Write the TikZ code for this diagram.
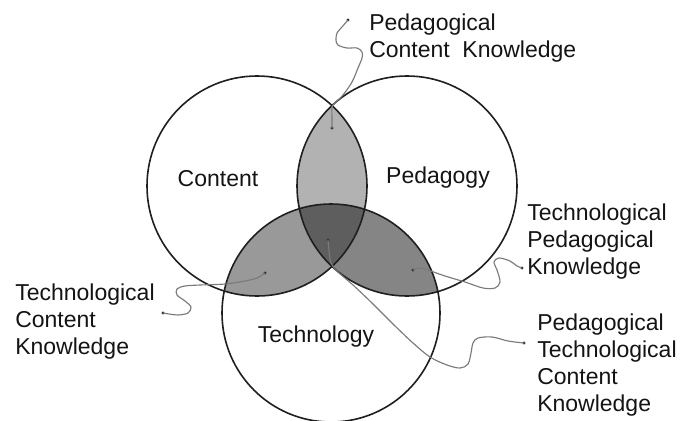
\documentclass[tikz,border=0pt]{standalone}
\usepackage{fontspec}
\setmainfont{Liberation Sans}
\begin{document}
\begin{tikzpicture}[x=0.75pt,y=-0.75pt,
  ring/.style={draw=black!88,line width=1.2pt},
  conn/.style={draw=black!52,line width=0.85pt,line cap=round,line join=round},
  dotmark/.style={circle,fill=black!85,inner sep=0pt,minimum size=2.6pt},
  lbl/.style={font=\fontsize{17.25}{20.25}\selectfont,text=black!92,align=left,inner sep=0pt,anchor=north west},
  clbl/.style={font=\fontsize{17.25}{20.25}\selectfont,text=black!92,inner sep=0pt,anchor=base}]
\useasboundingbox (0,0) rectangle (682,421);
\fill[white] (0,0) rectangle (682,421);
\coordinate (C) at (257,186);
\coordinate (P) at (407,186);
\coordinate (T) at (331,313);
% lenses
\begin{scope}
  \clip (C) circle[radius=110];
  \fill[black!30] (P) circle[radius=110];
\end{scope}
\begin{scope}
  \clip (C) circle[radius=110];
  \fill[black!40] (T) circle[radius=109];
\end{scope}
\begin{scope}
  \clip (P) circle[radius=110];
  \fill[black!48] (T) circle[radius=109];
\end{scope}
\begin{scope}
  \clip (C) circle[radius=110];
  \clip (P) circle[radius=110];
  \fill[black!63] (T) circle[radius=109];
\end{scope}
\draw[ring] (C) circle[radius=110];
\draw[ring] (P) circle[radius=110];
\draw[ring] (T) circle[radius=109];
% circle labels
\node[clbl] (lc) at (218,186) {Content};
\node[clbl] (lp) at (438,183) {Pedagogy};
\node[clbl] (lt) at (316,342) {Technology};
% outer labels
\node[lbl] (pck) at (369,14) {Pedagogical\\Content\hspace{0.55em}Knowledge};
\node[lbl] (tck) at (15,284) {Technological\\Content\\Knowledge};
\node[lbl] (tpk) at (527,204) {Technological\\Pedagogical\\Knowledge};
\node[lbl] (ptck) at (537,314) {Pedagogical\\Technological\\Content\\Knowledge};
% dots
\node[dotmark] (pckA) at (332,128) {};
\node[dotmark] (pckB) at (348,20) {};
\node[dotmark] (tckA) at (265,273) {};
\node[dotmark] (tckB) at (163,313) {};
\node[dotmark] (tpkA) at (413,270) {};
\node[dotmark] (tpkB) at (522,268) {};
\node[dotmark] (ptckA) at (328,240) {};
\node[dotmark] (ptckB) at (524,343) {};
% connectors
\draw[conn] plot[smooth,tension=0.55] coordinates {(pckA.center) (332,118) (332,107) (335,103) (343,95) (352,82) (358,68) (362,58) (362,52) (357,48) (347,48) (338,45) (336,40) (337,33) (342,27) (pckB.center)};
\draw[conn] plot[smooth,tension=0.55] coordinates {(tckA.center) (257,278) (245,281) (225,284) (200,285) (185,286) (177,289) (177,295) (185,301) (191,307) (188,313) (178,315) (169,314) (tckB.center)};
\draw[conn] plot[smooth,tension=0.55] coordinates {(tpkA.center) (420,268) (428,270) (445,276) (465,282) (483,288) (495,288) (500,282) (497,270) (494,262) (499,258) (510,261) (517,266) (tpkB.center)};
\draw[conn] plot[smooth,tension=0.55] coordinates {(ptckA.center) (329,250) (331,263) (338,272) (353,285) (373,304) (393,324) (413,343) (430,357) (447,365) (460,368) (468,364) (471,353) (473,343) (478,338) (492,337) (508,341) (ptckB.center)};
\end{tikzpicture}
\end{document}
